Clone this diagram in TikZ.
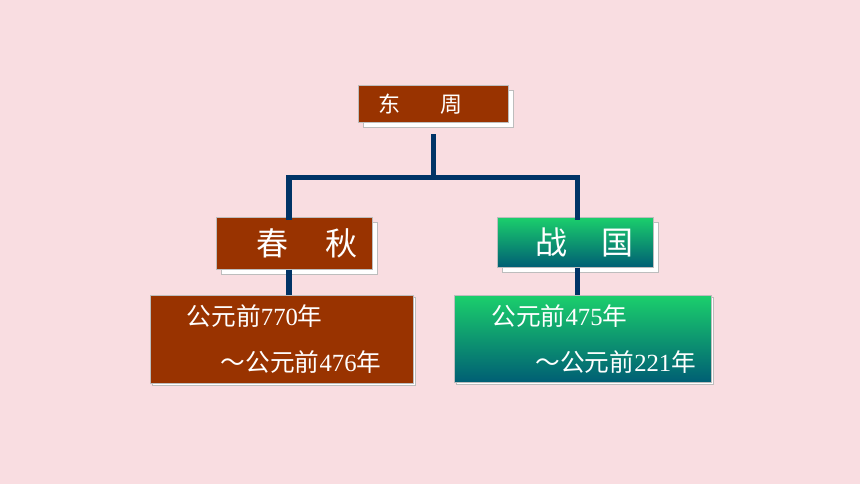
\documentclass[tikz,border=0pt]{standalone}
\usepackage{fontspec}
\setmainfont{Liberation Serif}
\newfontfamily\cjk{Noto Sans CJK SC}
\usepackage{tikz}
\usetikzlibrary{positioning,calc,shadows}
\definecolor{PageBg}{HTML}{F9DDE1}
\definecolor{Rust}{HTML}{993300}
\definecolor{GreenTop}{HTML}{1BCF6C}
\definecolor{TealBot}{HTML}{005E74}
\definecolor{Navy}{HTML}{003366}
\definecolor{EdgeGray}{HTML}{BDBDBD}
\newcommand{\yr}[1]{{\rmfamily #1}}
\tikzset{
  card/.style={draw=EdgeGray,line width=0.4pt,anchor=north west,inner sep=0pt,
    align=left,text=white,font=\cjk},
  shad/.style={general shadow={fill=white,draw=EdgeGray,line width=0.4pt,
    shadow xshift=#1,shadow yshift=-#1}},
  rust/.style={card,fill=Rust},
  jade/.style={card,top color=GreenTop,bottom color=TealBot},
  trunk/.style={draw=Navy,line width=3.8pt,line cap=rect},
}
\begin{document}
\begin{tikzpicture}[x=0.75pt,y=-0.75pt]
\fill[PageBg] (0,0) rectangle (860,484);
\useasboundingbox (0,0) rectangle (860,484);

\node[rust,shad=4pt,minimum width=112.5pt,minimum height=27.75pt,text width=112.5pt,
  font=\cjk\fontsize{16.5}{18}\selectfont] (dongzhou) at (358,85)
  {\hspace*{15pt}东\hspace{30pt}周};

\node[rust,shad=3.75pt,minimum width=117pt,minimum height=39pt,text width=117pt,
  font=\cjk\fontsize{24}{26}\selectfont] (chunqiu) at (216,217)
  {\hspace*{30pt}春\hspace{28pt}秋};
\node[jade,shad=3.75pt,minimum width=117pt,minimum height=37.5pt,text width=117pt,
  font=\cjk\fontsize{24}{26}\selectfont] (zhanguo) at (497,217)
  {\hspace*{29pt}战\hspace{25pt}国};

\node[rust,shad=1.5pt,minimum width=197.25pt,minimum height=66pt,text width=197.25pt,
  font=\cjk\fontsize{18.5}{34.5}\selectfont] (cqtime) at (150,295)
  {\hspace*{27.5pt}公元前\yr{770}年\\\hspace*{53pt}～公元前\yr{476}年};
\node[jade,shad=1.5pt,minimum width=192.75pt,minimum height=65.25pt,text width=192.75pt,
  font=\cjk\fontsize{18.5}{34.5}\selectfont] (zgtime) at (454,295)
  {\hspace*{28pt}公元前\yr{475}年\\\hspace*{61pt}～公元前\yr{221}年};

% tree
\coordinate (jt) at (433.5,177.5);
\coordinate (jl) at (289,177.5);
\coordinate (jr) at (577.5,177.5);
\draw[trunk] ($(jt |- dongzhou.south)+(0,14)$) -- (jt);
\draw[trunk] (jl) -- (jr);
\draw[trunk] (jl) -- (jl |- chunqiu.north);
\draw[trunk] (jr) -- (jr |- zhanguo.north);
\draw[trunk,line cap=butt] (jl |- chunqiu.south) -- (jl |- cqtime.north);
\draw[trunk,line cap=butt] (jr |- zhanguo.south) -- (jr |- zgtime.north);
\end{tikzpicture}
\end{document}
